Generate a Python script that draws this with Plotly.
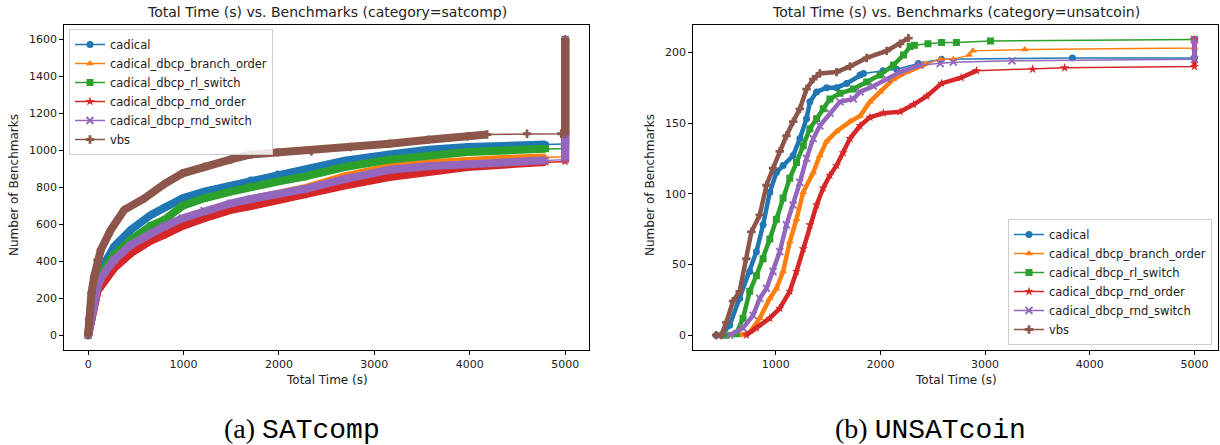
import plotly.graph_objects as go

# ---------------- data: satcomp (left) ----------------
sat_t_cadical = [0, 10, 30, 63, 98, 133, 273, 448, 658, 798, 990, 1217, 1497, 1707, 1987, 2267, 2688, 3159, 3568, 3977, 4386, 4795, 4990, 5000, 5000]
sat_n_cadical = [0, 80, 170, 250, 310, 354, 480, 570, 651, 692, 741, 777, 809, 840, 872, 897, 944, 978, 1004, 1018, 1027, 1032, 1035, 1035, 1600]

sat_t_common = [0, 28, 63, 98, 133, 273, 448, 658, 798, 990, 1217, 1497, 1707, 1987, 2267, 2688, 3159, 3568, 3977, 4386, 4795, 5000, 5000]
sat_n_branch = [0, 75, 175, 255, 300, 395, 475, 545, 578, 625, 668, 710, 735, 764, 795, 860, 910, 930, 945, 955, 962, 965, 1600]
sat_n_rl = [0, 80, 185, 270, 336, 435, 516, 592, 624, 700, 741, 777, 804, 831, 858, 910, 950, 973, 991, 1000, 1009, 1010, 1600]
sat_n_rnd_order = [0, 70, 165, 240, 264, 363, 444, 512, 543, 591, 633, 678, 699, 732, 759, 810, 856, 883, 910, 924, 937, 940, 1600]
sat_n_rnd_switch = [0, 78, 180, 262, 309, 408, 489, 556, 588, 633, 674, 714, 737, 764, 791, 845, 895, 914, 928, 937, 946, 950, 1600]

sat_t_vbs = [0, 10, 35, 63, 98, 133, 238, 378, 588, 798, 990, 1217, 1497, 1707, 1987, 2340, 2750, 3159, 3568, 3977, 4182, 4600, 4959, 5000, 5000]
sat_n_vbs = [0, 85, 228, 318, 408, 462, 570, 678, 740, 818, 876, 912, 951, 978, 989, 995, 1018, 1036, 1058, 1076, 1086, 1090, 1090, 1090, 1600]

# ---------------- data: unsatcoin (right) ----------------
un_t_cadical = [431, 480, 559, 655, 751, 815, 879, 943, 1006, 1070, 1166, 1230, 1294, 1326, 1390, 1485, 1581, 1677, 1805, 1838, 2025, 2155, 2361, 2583, 3834, 5000, 5000]
un_n_cadical = [0, 0, 7, 26, 45, 59, 78, 101, 115, 120, 127, 139, 153, 165, 172, 175, 175, 178, 184, 185, 187, 188, 192, 195, 196, 196, 209]

un_t_branch = [655, 751, 847, 943, 1006, 1070, 1134, 1198, 1262, 1358, 1421, 1485, 1581, 1709, 1805, 1900, 1996, 2124, 2252, 2443, 2571, 2696, 2846, 2883, 3378, 5000, 5000]
un_n_branch = [0, 2, 12, 26, 33, 45, 66, 82, 101, 115, 127, 137, 144, 151, 155, 165, 172, 181, 186, 192, 195, 195, 198, 201, 202, 203, 209]

un_t_rl = [527, 623, 687, 751, 815, 879, 943, 1006, 1070, 1134, 1198, 1262, 1326, 1390, 1453, 1517, 1613, 1741, 1868, 1996, 2124, 2220, 2284, 2324, 2454, 2584, 2726, 3051, 5000]
un_n_rl = [0, 1, 12, 31, 42, 54, 68, 82, 97, 111, 122, 134, 146, 153, 160, 167, 171, 174, 179, 184, 191, 198, 204, 205, 206, 207, 207, 208, 209]

un_t_rnd_order = [719, 815, 943, 1038, 1134, 1198, 1262, 1326, 1390, 1453, 1517, 1581, 1645, 1709, 1805, 1900, 2028, 2188, 2316, 2443, 2584, 2771, 2919, 3454, 3760, 5000, 5000]
un_n_rnd_order = [0, 5, 12, 19, 31, 45, 61, 78, 92, 104, 113, 120, 129, 139, 148, 154, 157, 158, 163, 169, 178, 182, 187, 188, 189, 190, 209]

un_t_rnd_switch = [559, 687, 783, 847, 911, 974, 1038, 1102, 1166, 1230, 1294, 1358, 1421, 1517, 1613, 1741, 1805, 1932, 2060, 2188, 2379, 2571, 2696, 3256, 5000, 5000]
un_n_rnd_switch = [0, 5, 14, 26, 33, 45, 59, 78, 92, 108, 125, 139, 148, 157, 165, 167, 172, 176, 181, 186, 191, 192, 193, 194, 195, 209]

un_t_vbs = [431, 480, 527, 591, 655, 719, 767, 847, 911, 974, 1038, 1102, 1166, 1230, 1294, 1358, 1421, 1581, 1709, 1868, 2060, 2188, 2268]
un_n_vbs = [0, 0, 9, 24, 31, 54, 73, 85, 106, 118, 130, 141, 151, 160, 174, 181, 185, 186, 190, 196, 201, 206, 210]

names = ["cadical", "cadical_dbcp_branch_order", "cadical_dbcp_rl_switch",
         "cadical_dbcp_rnd_order", "cadical_dbcp_rnd_switch", "vbs"]
colors = ["#1f77b4", "#ff7f0e", "#2ca02c", "#d62728", "#9467bd", "#8c564b"]
symbols = ["circle", "triangle-up", "square", "star", "x-thin", "cross"]

sat_series = [(sat_t_cadical, sat_n_cadical), (sat_t_common, sat_n_branch), (sat_t_common, sat_n_rl),
              (sat_t_common, sat_n_rnd_order), (sat_t_common, sat_n_rnd_switch), (sat_t_vbs, sat_n_vbs)]
un_series = [(un_t_cadical, un_n_cadical), (un_t_branch, un_n_branch), (un_t_rl, un_n_rl),
             (un_t_rnd_order, un_n_rnd_order), (un_t_rnd_switch, un_n_rnd_switch), (un_t_vbs, un_n_vbs)]

# where each curve's points are so dense that the markers merge into a band
sat_dense_until = [4795, 4795, 4795, 4795, 4795, 4182]
un_dense_until = [1838, 2443, 2284, 2919, 2379, 2268]
TIMEOUT = 5000

FONT = "DejaVu Sans"
TXT = "#222222"


def marker(i, size):
    m = dict(symbol=symbols[i], size=size, color=colors[i])
    if symbols[i] == "x-thin":
        m["line"] = dict(width=1.8, color=colors[i])
    else:
        m["line"] = dict(width=0)
    return m


fig = go.Figure()


def add_panel(series, dense_until, xa, ya, band_w, legend_name):
    for i, (t, n) in enumerate(series):
        k = sum(1 for v in t if v <= dense_until[i])
        bx, by = list(t[:k]), list(n[:k])
        # the pile of time-outs stacked at the time limit is also a dense column
        j = [idx for idx, v in enumerate(t) if v >= TIMEOUT]
        if len(j) >= 2:
            bx += [None] + [t[idx] for idx in j]
            by += [None] + [n[idx] for idx in j]
        fig.add_trace(go.Scatter(x=bx, y=by, mode="lines", showlegend=False, hoverinfo="skip",
                                 connectgaps=False,
                                 line=dict(color=colors[i], width=band_w), xaxis=xa, yaxis=ya))
        fig.add_trace(go.Scatter(x=t, y=n, mode="lines+markers", name=names[i],
                                 line=dict(color=colors[i], width=1.5), marker=marker(i, 7),
                                 xaxis=xa, yaxis=ya, legend=legend_name))


add_panel(sat_series, sat_dense_until, "x", "y", 8, "legend")
add_panel(un_series, un_dense_until, "x2", "y2", 4.5, "legend2")

W, H = 1220, 445
L1, R1 = 64.3, 589.0
L2, R2 = 693.3, 1218.3
TOP, BOT = 24.7, 350.0

axis_common = dict(showline=True, linecolor="black", linewidth=1, mirror=True,
                   ticks="outside", ticklen=4, tickwidth=1, tickcolor="black",
                   showgrid=False, zeroline=False,
                   tickfont=dict(family=FONT, size=11, color=TXT))

leg_common = dict(bgcolor="rgba(255,255,255,0.85)", bordercolor="#cccccc", borderwidth=1,
                  font=dict(family=FONT, size=11.5, color=TXT), tracegroupgap=0, itemwidth=30)

fig.update_layout(
    width=W, height=H,
    margin=dict(l=0, r=0, t=0, b=0),
    paper_bgcolor="white", plot_bgcolor="white",
    font=dict(family=FONT, size=11, color=TXT),
    xaxis=dict(domain=[L1 / W, R1 / W], range=[-250, 5250], tickvals=[0, 1000, 2000, 3000, 4000, 5000],
               anchor="y", **axis_common),
    yaxis=dict(domain=[1 - BOT / H, 1 - TOP / H], range=[-80, 1680],
               tickvals=[0, 200, 400, 600, 800, 1000, 1200, 1400, 1600], anchor="x", **axis_common),
    xaxis2=dict(domain=[L2 / W, R2 / W], range=[212, 5228], tickvals=[1000, 2000, 3000, 4000, 5000],
                anchor="y2", **axis_common),
    yaxis2=dict(domain=[1 - BOT / H, 1 - TOP / H], range=[-10.5, 219.5],
                tickvals=[0, 50, 100, 150, 200], anchor="x2", **axis_common),
    legend=dict(x=69 / W, y=1 - 29 / H, xanchor="left", yanchor="top", **leg_common),
    legend2=dict(x=1212 / W, y=1 - 345 / H, xanchor="right", yanchor="bottom", **leg_common),
)

ann = []
for txt, L, R in [("Total Time (s) vs. Benchmarks (category=satcomp)", L1, R1),
                  ("Total Time (s) vs. Benchmarks (category=unsatcoin)", L2, R2)]:
    ann.append(dict(text=txt, x=(L + R) / 2 / W, y=1 - 12.5 / H,
                    xref="paper", yref="paper", showarrow=False, font=dict(size=14, family=FONT, color=TXT),
                    xanchor="center", yanchor="middle"))
    ann.append(dict(text="Total Time (s)", x=(L + R) / 2 / W, y=1 - 380 / H, xref="paper", yref="paper",
                    showarrow=False, font=dict(size=12, family=FONT, color=TXT),
                    xanchor="center", yanchor="middle"))
for xc in [14, 650]:
    ann.append(dict(text="Number of Benchmarks", x=xc / W, y=1 - 185 / H, xref="paper", yref="paper",
                    showarrow=False, textangle=-90, font=dict(size=12, family=FONT, color=TXT),
                    xanchor="center", yanchor="middle"))
ann.append(dict(text="(a) <span style='font-family:Liberation Mono'>SATcomp</span>", x=302 / W, y=1 - 429 / H,
                xref="paper", yref="paper", showarrow=False,
                font=dict(size=28, family="Liberation Serif", color="black"), xanchor="center", yanchor="middle"))
ann.append(dict(text="(b) <span style='font-family:Liberation Mono'>UNSATcoin</span>", x=930 / W, y=1 - 429 / H,
                xref="paper", yref="paper", showarrow=False,
                font=dict(size=28, family="Liberation Serif", color="black"), xanchor="center", yanchor="middle"))
fig.update_layout(annotations=ann)

fig.write_html("out.html")
